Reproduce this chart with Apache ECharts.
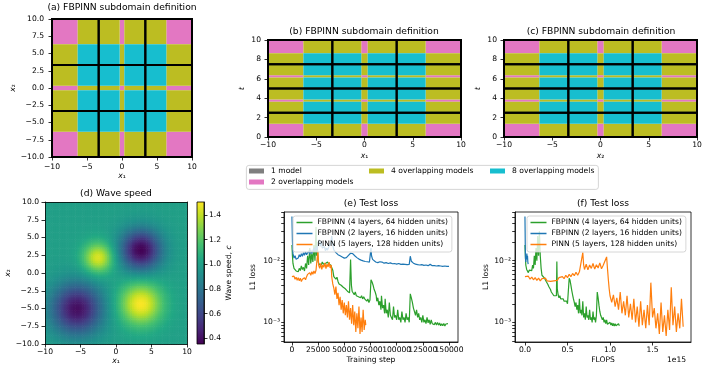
<!DOCTYPE html>
<html>
<head>
<meta charset="utf-8">
<script src="https://cdn.jsdelivr.net/npm/echarts@6/dist/echarts.min.js"></script>
<style>
  html, body { margin: 0; padding: 0; background: #fff; }
  #chart { width: 708px; height: 373px; }
</style>
</head>
<body>
<div id="chart"></div>
<script>
// ---- subdomain layout (panels a, b, c) ----
const xDiv = [-10, -3.333, 3.333, 10];          // thick black subdomain lines along x
const tDiv = [0, 2.5, 5, 7.5, 10];              // thick black subdomain lines along t
const xEdges = [-10, -6.333, -0.333, 0.333, 6.333, 10];   // colour bands along x
const xCounts = [1, 2, 1, 2, 1];
const tEdges = [0, 1.375, 3.625, 3.875, 6.125, 6.375, 8.625, 10];
const tCounts = [1, 2, 1, 2, 1, 2, 1];
const modelNames = ['1 model', '2 overlapping models', '4 overlapping models', '8 overlapping models'];

// ---- wave speed (panel d): four gaussian bumps ----
const bumpX = [-2.5, 3.5, 3.5, -5.5];
const bumpY = [2.2, -4.3, 3.3, -5.0];
const bumpAmp = [0.45, 0.5, -0.64, -0.6];
const bumpWidth = [1.5, 2.1, 2.0, 2.5];
const speedMin = 0.354, speedMax = 1.505;
const colorbarTicks = [0.4, 0.6, 0.8, 1.0, 1.2, 1.4];

// ---- test loss (panel e), x = training step ----
const stepTicks = [0, 25000, 50000, 75000, 100000, 125000, 150000];
const greenSteps = [[0,0.018],[500,0.012],[1000,0.009],[2000,0.0075],[3000,0.007],[4000,0.0068],[5000,0.0072],[6000,0.0066],[7000,0.0075],[8000,0.0069],[9000,0.0082],[10000,0.0072],[11000,0.0078],[12000,0.0068],[13000,0.009],[14000,0.0075],[15000,0.012],[16000,0.0085],[17000,0.016],[18000,0.009],[19000,0.013],[20000,0.0095],[21000,0.018],[22000,0.01],[23000,0.035],[23500,0.012],[24000,0.02],[25000,0.0095],[26000,0.0088],[27000,0.0092],[28000,0.0085],[29000,0.0095],[30000,0.0088],[31000,0.0082],[32000,0.009],[33000,0.0085],[34000,0.0095],[35000,0.0088],[36000,0.0092],[37000,0.0085],[38000,0.0088],[39000,0.007],[40000,0.0055],[41000,0.0052],[42000,0.005],[43000,0.0054],[44000,0.0046],[45000,0.0042],[46000,0.0044],[47000,0.004],[48000,0.0042],[49000,0.0037],[50000,0.0039],[51000,0.0035],[52000,0.0036],[53000,0.0032],[54000,0.0034],[55000,0.003],[56000,0.0104],[56800,0.004],[57500,0.0032],[58500,0.003],[59500,0.0028],[60500,0.0031],[61500,0.0027],[62500,0.0029],[63500,0.0026],[64500,0.0028],[65500,0.0025],[66500,0.0027],[67500,0.0024],[68500,0.0026],[69500,0.0024],[70500,0.0025],[71500,0.0022],[72500,0.0024],[73500,0.0021],[74500,0.0023],[75500,0.0049],[76500,0.0045],[77500,0.004],[78500,0.0034],[79500,0.0031],[80500,0.0027],[81000,0.0022],[82000,0.0025],[83000,0.0019],[84000,0.0022],[85000,0.0016],[85500,0.0027],[86500,0.0017],[87500,0.0019],[88500,0.0014],[89000,0.0024],[90000,0.0014],[91000,0.0016],[92000,0.0012],[93000,0.0021],[94000,0.0013],[95000,0.0014],[96000,0.0011],[97000,0.0018],[98000,0.0012],[99000,0.0013],[100000,0.0011],[101000,0.0016],[102000,0.0011],[103000,0.0012],[104000,0.001],[105000,0.0015],[106000,0.0011],[107000,0.0012],[108000,0.001],[109000,0.0014],[110000,0.0011],[111000,0.0012],[112000,0.001],[113000,0.0029],[114000,0.0025],[115000,0.0021],[116000,0.0017],[117000,0.0015],[118000,0.0013],[119000,0.0016],[120000,0.0012],[121000,0.0014],[122000,0.0011],[123000,0.0012],[124000,0.001],[125000,0.0013],[126000,0.001],[127000,0.0011],[128000,0.00095],[129000,0.0012],[130000,0.00098],[131000,0.0011],[132000,0.00093],[133000,0.0011],[134000,0.00095],[135000,0.001],[136000,0.00092],[137000,0.001],[138000,0.0009],[139000,0.001],[140000,0.0009],[141000,0.00098],[142000,0.00088],[143000,0.00095],[144000,0.00088],[145000,0.00096],[146000,0.00087],[147000,0.00094],[148000,0.00088],[149000,0.00095],[150000,0.0009]];
const blueSteps = [[0,0.052],[500,0.02],[1000,0.013],[2000,0.011],[3000,0.012],[4000,0.0105],[5000,0.0098],[6000,0.011],[7000,0.0125],[8000,0.0115],[9000,0.013],[10000,0.0118],[11000,0.0135],[12000,0.0122],[13000,0.014],[14000,0.0125],[15000,0.013],[16000,0.0145],[17000,0.0128],[18000,0.015],[19000,0.013],[20000,0.0145],[21000,0.016],[22000,0.014],[23000,0.017],[24000,0.0145],[25000,0.019],[26000,0.022],[27000,0.017],[28000,0.021],[29000,0.016],[30000,0.0155],[31000,0.017],[32000,0.0145],[33000,0.016],[34000,0.0148],[35000,0.0165],[36000,0.0155],[37000,0.019],[38000,0.025],[39000,0.018],[40000,0.015],[42000,0.0135],[44000,0.0125],[46000,0.012],[48000,0.0115],[50000,0.011],[52000,0.0112],[54000,0.0122],[56000,0.0132],[57000,0.0134],[58000,0.013],[60000,0.012],[62000,0.0112],[64000,0.0106],[66000,0.0102],[68000,0.0099],[70000,0.0097],[72000,0.0096],[74000,0.0095],[75000,0.0097],[75500,0.016],[76000,0.012],[77000,0.0105],[78000,0.0099],[80000,0.0095],[82000,0.0093],[84000,0.0096],[85000,0.009],[86000,0.0095],[88000,0.0091],[90000,0.0093],[92000,0.009],[94000,0.0092],[96000,0.0089],[98000,0.009],[100000,0.0088],[102000,0.009],[104000,0.0087],[106000,0.0088],[108000,0.0087],[110000,0.0086],[112000,0.0087],[113000,0.0118],[114000,0.0098],[116000,0.0091],[118000,0.0088],[120000,0.0086],[122000,0.0085],[124000,0.0086],[126000,0.0084],[128000,0.0085],[130000,0.0083],[132000,0.0087],[134000,0.0083],[136000,0.0083],[138000,0.0082],[140000,0.0083],[142000,0.0082],[144000,0.0081],[146000,0.0082],[148000,0.0081],[150000,0.0081]];
const orangeSteps = [[0,0.0055],[1000,0.0052],[2000,0.0056],[3000,0.005],[4000,0.0054],[5000,0.0048],[6000,0.0053],[7000,0.0047],[8000,0.0052],[9000,0.0046],[10000,0.005],[11000,0.0047],[12000,0.0053],[13000,0.0049],[14000,0.0055],[15000,0.006],[16000,0.0056],[17000,0.0064],[18000,0.0058],[19000,0.0066],[20000,0.006],[21000,0.0068],[22000,0.0062],[23000,0.007],[24000,0.0065],[24800,0.0145],[25500,0.0085],[26500,0.0075],[27500,0.009],[28500,0.0072],[29500,0.0085],[30500,0.0078],[31500,0.0092],[32500,0.0074],[33500,0.0088],[34500,0.0079],[35500,0.0095],[36500,0.0076],[37500,0.0085],[38000,0.0055],[39000,0.0042],[40000,0.0036],[41000,0.0028],[42000,0.0038],[43000,0.0024],[44000,0.003],[45000,0.0019],[46000,0.0026],[47000,0.0016],[48000,0.0023],[49000,0.0014],[50000,0.0021],[51000,0.0013],[52000,0.0019],[53000,0.0012],[54000,0.0022],[55000,0.0011],[56000,0.0017],[57000,0.00095],[58000,0.0019],[59000,0.0009],[60000,0.0015],[61000,0.0007],[62000,0.0014],[63000,0.0008],[64000,0.0018],[65000,0.00065],[66000,0.0012],[67000,0.0007],[68000,0.0016],[69000,0.00075],[70000,0.0011],[70500,0.0009]];

// ---- test loss (panel f), x = FLOPS / 1e15 ----
const flopTicks = [0, 0.5, 1.0, 1.5];
const greenFlops = [[0,0.018],[0.005,0.012],[0.01,0.0085],[0.02,0.0072],[0.03,0.0068],[0.04,0.0064],[0.05,0.007],[0.06,0.0066],[0.07,0.0075],[0.08,0.0069],[0.09,0.0085],[0.1,0.0075],[0.11,0.012],[0.12,0.0085],[0.13,0.016],[0.14,0.01],[0.15,0.025],[0.16,0.012],[0.17,0.03],[0.175,0.032],[0.18,0.012],[0.19,0.0075],[0.2,0.0058],[0.21,0.0055],[0.22,0.0057],[0.23,0.0052],[0.24,0.005],[0.25,0.0046],[0.26,0.0044],[0.27,0.0041],[0.28,0.0038],[0.29,0.0036],[0.3,0.0034],[0.31,0.0031],[0.32,0.0029],[0.33,0.003],[0.34,0.0027],[0.35,0.0028],[0.36,0.0026],[0.37,0.0027],[0.375,0.0097],[0.38,0.0035],[0.39,0.0028],[0.4,0.0025],[0.41,0.0027],[0.42,0.0024],[0.43,0.0025],[0.44,0.0023],[0.45,0.0024],[0.46,0.0022],[0.47,0.0023],[0.48,0.0021],[0.49,0.0022],[0.5,0.002],[0.51,0.0021],[0.52,0.0052],[0.53,0.0048],[0.54,0.004],[0.55,0.0033],[0.56,0.0028],[0.57,0.0024],[0.58,0.0021],[0.59,0.0018],[0.6,0.0021],[0.61,0.0016],[0.62,0.0019],[0.63,0.0014],[0.64,0.0024],[0.65,0.0014],[0.66,0.0016],[0.67,0.0013],[0.68,0.0022],[0.69,0.0012],[0.7,0.0014],[0.71,0.0011],[0.72,0.0018],[0.73,0.0012],[0.74,0.0013],[0.75,0.0011],[0.76,0.0016],[0.77,0.0011],[0.78,0.0012],[0.79,0.001],[0.8,0.0015],[0.81,0.0011],[0.82,0.0012],[0.83,0.001],[0.84,0.0013],[0.85,0.0031],[0.86,0.0025],[0.87,0.0019],[0.88,0.0015],[0.89,0.0013],[0.9,0.0014],[0.91,0.0011],[0.92,0.0012],[0.93,0.001],[0.94,0.0011],[0.95,0.00095],[0.96,0.0011],[0.97,0.00093],[0.98,0.001],[0.99,0.00092],[1.0,0.001],[1.01,0.0009],[1.02,0.00098],[1.03,0.00088],[1.04,0.00096],[1.05,0.00087],[1.06,0.00095],[1.07,0.00088],[1.08,0.00094],[1.09,0.00087],[1.1,0.00095],[1.11,0.00088],[1.12,0.00093],[1.13,0.0009]];
const blueFlops = [[0,0.052],[0.002,0.03],[0.004,0.016],[0.006,0.011],[0.01,0.0095],[0.014,0.012],[0.018,0.0105],[0.022,0.013],[0.026,0.011],[0.03,0.012],[0.034,0.0095],[0.038,0.0088],[0.042,0.0085]];
const orangeFlops = [[0,0.0055],[0.02,0.0052],[0.04,0.0056],[0.06,0.005],[0.08,0.0054],[0.1,0.0049],[0.12,0.0053],[0.14,0.0048],[0.16,0.0052],[0.18,0.0047],[0.2,0.0051],[0.22,0.0048],[0.24,0.0052],[0.26,0.0047],[0.28,0.005],[0.3,0.0046],[0.32,0.0049],[0.34,0.0047],[0.36,0.005],[0.38,0.0048],[0.4,0.0053],[0.42,0.005],[0.44,0.0055],[0.46,0.0051],[0.48,0.0058],[0.5,0.0053],[0.52,0.006],[0.54,0.0055],[0.56,0.0062],[0.58,0.0057],[0.6,0.0065],[0.62,0.0058],[0.64,0.0066],[0.66,0.0062],[0.68,0.0135],[0.69,0.0085],[0.7,0.0072],[0.72,0.0088],[0.74,0.0071],[0.76,0.0085],[0.78,0.0075],[0.8,0.009],[0.82,0.0073],[0.84,0.0086],[0.86,0.0076],[0.88,0.0092],[0.9,0.0074],[0.92,0.0084],[0.94,0.0078],[0.96,0.0115],[0.97,0.0075],[0.98,0.005],[0.99,0.0035],[1.0,0.0027],[1.02,0.0021],[1.04,0.0028],[1.06,0.0018],[1.08,0.0025],[1.1,0.0016],[1.12,0.0031],[1.14,0.0014],[1.16,0.0022],[1.18,0.0013],[1.2,0.0027],[1.22,0.0012],[1.24,0.002],[1.26,0.0011],[1.28,0.0024],[1.3,0.001],[1.32,0.0018],[1.34,0.00085],[1.36,0.0022],[1.38,0.0009],[1.4,0.0016],[1.42,0.0008],[1.44,0.0019],[1.46,0.0009],[1.48,0.0044],[1.5,0.0012],[1.52,0.0017],[1.54,0.0008],[1.56,0.0014],[1.58,0.00065],[1.6,0.0021],[1.62,0.0007],[1.64,0.0013],[1.66,0.0006],[1.68,0.0016],[1.7,0.00075],[1.72,0.0037],[1.74,0.0009],[1.76,0.0018],[1.78,0.0007],[1.8,0.0014],[1.82,0.0008],[1.84,0.0024],[1.86,0.00085]];
const lossTicks = [0.001, 0.01];
const lossMinorTicks = [0.0005, 0.0006, 0.0007, 0.0008, 0.0009, 0.002, 0.003, 0.004, 0.005, 0.006, 0.007, 0.008, 0.009, 0.02, 0.03, 0.04, 0.05, 0.06];
const lossNames = ['FBPINN (4 layers, 64 hidden units)', 'FBPINN (2 layers, 16 hidden units)', 'PINN (5 layers, 128 hidden units)'];

// ---- styles ----
const FONT = 'DejaVu Sans';
const modelColors = ['#7f7f7f', '#e377c2', '#bcbd22', '#17becf'];
const lossColors = ['#2ca02c', '#1f77b4', '#ff7f0e'];
const viridis = ['#440154', '#482475', '#414487', '#355f8d', '#2a788e', '#21918c', '#22a884', '#44bf70', '#7ad151', '#bddf26', '#fde725'];

const minus = s => s.replace('-', '\u2212');
const fmtInt = v => minus(String(v));
const fmt1 = v => minus(v.toFixed(1));
const sup = {'-': '\u207b', '2': '\u00b2', '3': '\u00b3'};
const fmtLog = v => '10' + String(Math.round(Math.log10(v))).split('').map(c => sup[c]).join('');

const nameStyle = {
  color: '#000', fontFamily: FONT, fontSize: 7.6,
  rich: { i: { fontStyle: 'italic', fontFamily: FONT, fontSize: 7.6, color: '#000' } }
};

function axis(props, label, tick) {
  return Object.assign({
    type: 'value',
    nameLocation: 'middle',
    nameTextStyle: nameStyle,
    axisLine: { show: true, onZero: false, lineStyle: { color: '#000', width: 0.8 } },
    axisTick: Object.assign({ show: true, length: 3.5, lineStyle: { color: '#000', width: 0.8 } }, tick || {}),
    axisLabel: Object.assign({ color: '#000', fontFamily: FONT, fontSize: 7.6, margin: 5,
      showMinLabel: true, showMaxLabel: true, hideOverlap: false }, label || {}),
    splitLine: { show: false }
  }, props);
}
const frameAxis = props => axis(Object.assign({ min: 0, max: 1, z: 10 }, props), { show: false }, { show: false });

// ---- series builders ----
function rectRender(params, api) {
  const a = api.coord([api.value(0), api.value(3)]);
  const b = api.coord([api.value(1), api.value(2)]);
  return { type: 'rect', shape: { x: a[0], y: a[1], width: b[0] - a[0], height: b[1] - a[1] },
    style: { fill: api.visual('color') } };
}
function boxRender(params, api) {
  const a = api.coord([api.value(0), api.value(3)]);
  const b = api.coord([api.value(1), api.value(2)]);
  return { type: 'rect', shape: { x: a[0], y: a[1], width: b[0] - a[0], height: b[1] - a[1] },
    style: { fill: null, stroke: '#000', lineWidth: 2 } };
}

function panelSeries(idx, xe, xc, ye, yc, xd, yd) {
  const groups = { 1: [], 2: [], 4: [] };
  for (let i = 0; i < xc.length; i++) {
    for (let j = 0; j < yc.length; j++) {
      groups[xc[i] * yc[j]].push([xe[i], xe[i + 1], ye[j], ye[j + 1]]);
    }
  }
  const list = [1, 2, 4].map((k, n) => ({
    type: 'custom', name: modelNames[n + 1], xAxisIndex: idx, yAxisIndex: idx,
    itemStyle: { color: modelColors[n + 1] }, renderItem: rectRender, data: groups[k], silent: true
  }));
  const boxes = [];
  for (let i = 0; i < xd.length - 1; i++) {
    for (let j = 0; j < yd.length - 1; j++) boxes.push([xd[i], xd[i + 1], yd[j], yd[j + 1]]);
  }
  list.push({ type: 'custom', name: 'subdomains', xAxisIndex: idx, yAxisIndex: idx,
    renderItem: boxRender, data: boxes, z: 3, silent: true });
  return list;
}

// wave speed cells
const cellStep = 0.25;
const speedCells = [];
for (let x = -10 + cellStep / 2; x < 10; x += cellStep) {
  for (let y = -10 + cellStep / 2; y < 10; y += cellStep) {
    let c = 1;
    for (let k = 0; k < bumpX.length; k++) {
      const r2 = (x - bumpX[k]) ** 2 + (y - bumpY[k]) ** 2;
      c += bumpAmp[k] * Math.exp(-r2 / (2 * bumpWidth[k] ** 2));
    }
    speedCells.push([x, y, c]);
  }
}

const series = [];
series.push(...panelSeries(0, xEdges, xCounts, xEdges, xCounts, xDiv, xDiv));
series.push(...panelSeries(1, xEdges, xCounts, tEdges, tCounts, xDiv, tDiv));
series.push(...panelSeries(2, xEdges, xCounts, tEdges, tCounts, xDiv, tDiv));
series.push({ type: 'custom', name: modelNames[0], xAxisIndex: 0, yAxisIndex: 0, data: [],
  itemStyle: { color: modelColors[0] }, renderItem: () => null });

const heatIndex = series.length;
series.push({
  type: 'custom', xAxisIndex: 3, yAxisIndex: 3, data: speedCells, clip: true, silent: true,
  renderItem: (params, api) => {
    const h = cellStep / 2;
    const a = api.coord([api.value(0) - h, api.value(1) + h]);
    const b = api.coord([api.value(0) + h, api.value(1) - h]);
    return { type: 'rect', shape: { x: a[0], y: a[1], width: b[0] - a[0] + 0.6, height: b[1] - a[1] + 0.6 },
      style: { fill: api.visual('color') } };
  }
});
series.push({
  type: 'custom', xAxisIndex: 5, yAxisIndex: 5, data: [[0.5, 1]], silent: true,
  renderItem: (params) => {
    const cs = params.coordSys;
    return { type: 'rect', shape: { x: cs.x, y: cs.y, width: cs.width, height: cs.height },
      style: { fill: new echarts.graphic.LinearGradient(0, 1, 0, 0,
        viridis.map((c, i) => ({ offset: i / (viridis.length - 1), color: c }))),
        stroke: '#000', lineWidth: 0.8 } };
  }
});

function lossLine(name, color, data, xi, yi) {
  return { type: 'line', name, xAxisIndex: xi, yAxisIndex: yi, data, symbol: 'none',
    lineStyle: { color, width: 1.2 }, itemStyle: { color }, silent: true };
}
[greenSteps, blueSteps, orangeSteps].forEach((d, i) => series.push(lossLine(lossNames[i], lossColors[i], d, 6, 6)));
[greenFlops, blueFlops, orangeFlops].forEach((d, i) => series.push(lossLine(lossNames[i], lossColors[i], d, 7, 7)));

// ---- axes ----
// step labels overlap in the original; split them over two axes so none is dropped
const stepLabelsA = stepTicks.filter((v, i) => i % 2 === 0);
const stepLabelsB = stepTicks.filter((v, i) => i % 2 === 1);
const xAxis = [
  axis({ gridIndex: 0, min: -10, max: 10, interval: 5, name: '{i|x}\u2081', nameGap: 15 }, { formatter: fmtInt, margin: 6 }),
  axis({ gridIndex: 1, min: -10, max: 10, interval: 5, name: '{i|x}\u2081', nameGap: 15 }, { formatter: fmtInt, margin: 4 }),
  axis({ gridIndex: 2, min: -10, max: 10, interval: 5, name: '{i|x}\u2082', nameGap: 15 }, { formatter: fmtInt, margin: 4 }),
  axis({ gridIndex: 3, min: -10, max: 10, interval: 5, name: '{i|x}\u2081', nameGap: 13, z: 10 }, { formatter: fmtInt, margin: 4 }),
  frameAxis({ gridIndex: 3, position: 'top' }),
  axis({ gridIndex: 4, min: 0, max: 1, show: false }),
  axis({ gridIndex: 5, position: 'bottom', min: -7560, max: 158560, name: 'Training step', nameGap: 14 },
    { customValues: stepLabelsA, formatter: v => String(v), margin: 4 }, { customValues: stepTicks }),
  axis({ gridIndex: 6, min: -0.117, max: 1.952, name: 'FLOPS', nameGap: 14 },
    { customValues: flopTicks, formatter: v => v.toFixed(1), margin: 4 }, { customValues: flopTicks }),
  axis({ gridIndex: 5, position: 'bottom', min: -7560, max: 158560, axisLine: { show: false } },
    { customValues: stepLabelsB, formatter: v => String(v), margin: 4 }, { show: false })
];
// major and minor log ticks share one axis
const logAxis = (grid, gap) => axis({ gridIndex: grid, type: 'log', logBase: 10, min: 0.00048, max: 0.0615,
  name: 'L1 loss', nameGap: gap, nameRotate: 90 }, { customValues: lossTicks, formatter: fmtLog, margin: 4 },
  { customValues: lossTicks.concat(lossMinorTicks), length: 2.8 });
const yAxis = [
  axis({ gridIndex: 0, min: -10, max: 10, interval: 2.5, name: '{i|x}\u2082', nameGap: 31, nameRotate: 90 }, { formatter: fmt1, margin: 8 }),
  axis({ gridIndex: 1, min: 0, max: 10, interval: 2, name: '{i|t}', nameGap: 22, nameRotate: 90 }, { formatter: fmtInt, margin: 7 }),
  axis({ gridIndex: 2, min: 0, max: 10, interval: 2, name: '{i|t}', nameGap: 22, nameRotate: 90 }, { formatter: fmtInt, margin: 7 }),
  axis({ gridIndex: 3, min: -10, max: 10, interval: 2.5, name: '{i|x}\u2082', nameGap: 30, nameRotate: 90, z: 10 }, { formatter: fmt1, margin: 6 }),
  frameAxis({ gridIndex: 3, position: 'right' }),
  axis({ gridIndex: 4, position: 'right', min: speedMin, max: speedMax, name: 'Wave speed, {i|c}', nameGap: 19, nameRotate: 90 },
    { customValues: colorbarTicks, formatter: fmt1, margin: 5 }, { customValues: colorbarTicks }),
  logAxis(5, 27),
  logAxis(6, 25)
];

// ---- titles, legends ----
const titleStyle = { fontFamily: FONT, fontSize: 9.2, fontWeight: 'normal', color: '#000' };
const title = [
  ['(a) FBPINN subdomain definition', 122, 3],
  ['(b) FBPINN subdomain definition', 364, 27],
  ['(c) FBPINN subdomain definition', 601, 27],
  ['(d) Wave speed', 116, 189.5],
  ['(e) Test loss', 371, 199.5],
  ['(f) Test loss', 603, 199.5]
].map(([text, left, top]) => ({ text, left, top, textAlign: 'center', padding: 0, textStyle: titleStyle }));

const legendText = { fontFamily: FONT, fontSize: 7.6, color: '#000', lineHeight: 9 };
const modelLegend = (data, left) => ({ data, left, top: 166.5, orient: 'vertical', icon: 'rect', itemWidth: 15, itemHeight: 5,
  itemGap: 2, padding: 0, selectedMode: false, textStyle: Object.assign({ padding: [0, 0, 0, 2] }, legendText) });
const lossLegend = left => ({ data: lossNames, left, top: 216, orient: 'vertical', icon: 'rect', itemWidth: 16, itemHeight: 1.5,
  itemGap: 2, padding: [2, 4, 3, 3.5], selectedMode: false, backgroundColor: 'rgba(255,255,255,0.8)',
  borderColor: '#cccccc', borderWidth: 0.8, borderRadius: 2.5, textStyle: legendText });

const grid = [
  { left: 52, top: 19, width: 140, height: 138 },
  { left: 268, top: 40, width: 193, height: 97 },
  { left: 504, top: 40, width: 193, height: 97 },
  { left: 45, top: 202, width: 142, height: 142 },
  { left: 197, top: 202, width: 7, height: 142 },
  { left: 284, top: 212, width: 174, height: 130, show: true, borderColor: '#000', borderWidth: 0.8 },
  { left: 515, top: 212, width: 176, height: 130, show: true, borderColor: '#000', borderWidth: 0.8 }
].map(g => Object.assign({ containLabel: false, outerBoundsMode: 'none' }, g));

const chart = echarts.init(document.getElementById('chart'));
chart.setOption({
  animation: false,
  backgroundColor: '#fff',
  textStyle: { fontFamily: FONT },
  title,
  grid,
  xAxis,
  yAxis,
  visualMap: { type: 'continuous', show: false, seriesIndex: heatIndex, dimension: 2,
    min: speedMin, max: speedMax, inRange: { color: viridis } },
  legend: [
    modelLegend([modelNames[0], modelNames[1]], 249),
    modelLegend([modelNames[2]], 369),
    modelLegend([modelNames[3]], 490),
    lossLegend(293),
    lossLegend(527)
  ],
  graphic: [
    { type: 'rect', left: 246, top: 165, z: -1, shape: { width: 352, height: 24, r: 2.5 },
      style: { fill: '#fff', stroke: '#cccccc', lineWidth: 0.8 } },
    { type: 'text', left: 667, top: 356, style: { text: '1e15', font: '7.6px "DejaVu Sans"', fill: '#000' } }
  ],
  series
});
</script>
</body>
</html>
